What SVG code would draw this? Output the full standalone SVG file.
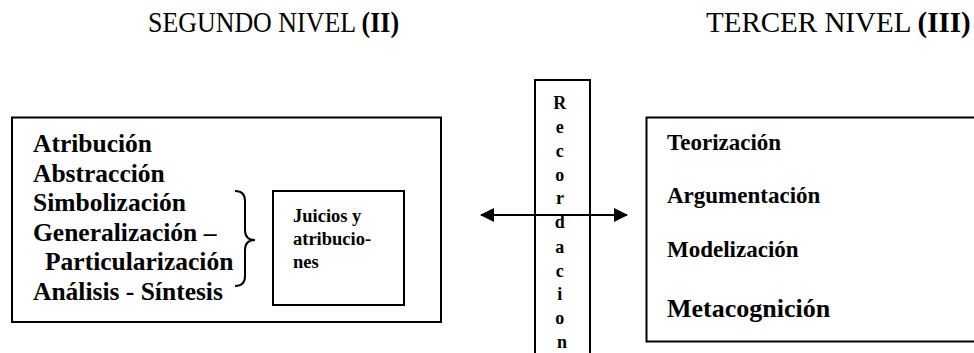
<svg xmlns="http://www.w3.org/2000/svg" width="974" height="353" viewBox="0 0 974 353">
<style>
.t{font-family:"Liberation Serif","Times New Roman",serif;fill:#000}
.b{font-weight:bold}
.box{fill:#fff;stroke:#000;stroke-width:2}
.c{fill:none;stroke:#000;stroke-width:2}
</style>
<defs>
<marker id="ah" viewBox="0 0 14 14" refX="13" refY="7" markerWidth="14" markerHeight="14" markerUnits="userSpaceOnUse" orient="auto-start-reverse">
<path d="M0,0 L14,7 L0,14 Z" fill="#000"/>
</marker>
</defs>
<rect width="974" height="353" fill="#fff"/>
<g id="titles">
<text class="t" font-size="29" transform="translate(148,32) scale(0.894,1)">SEGUNDO NIVEL <tspan class="b">(II)</tspan></text>
<text class="t" x="706" y="32" font-size="29">TERCER NIVEL <tspan class="b">(III)</tspan></text>
</g>
<g id="nivel2">
<rect class="box" x="12" y="117.5" width="429" height="204.5"/>
<text class="t b" font-size="25.5">
<tspan x="33" y="152">Atribución</tspan>
<tspan x="33" y="182">Abstracción</tspan>
<tspan x="33" y="211">Simbolización</tspan>
<tspan x="33" y="241">Generalización –</tspan>
<tspan x="45" y="270">Particularización</tspan>
<tspan x="33" y="300">Análisis - Síntesis</tspan>
</text>
<path class="c" d="M235,191 Q245,191 245,201 L245,230 Q245,240 255,240 Q245,240 245,250 L245,276 Q245,286 235,286" stroke-width="1.5"/>
</g>
<g id="juicios">
<rect class="box" x="273" y="191" width="131" height="114"/>
<text class="t b" font-size="18.5">
<tspan x="293" y="222">Juicios y</tspan>
<tspan x="293" y="245">atribucio-</tspan>
<tspan x="293" y="268">nes</tspan>
</text>
</g>
<g id="recordacion">
<rect class="box" x="535" y="80" width="55" height="300"/>
<text class="t b" font-size="18" text-anchor="middle">
<tspan x="562" y="109">R</tspan>
<tspan x="562" y="133">e</tspan>
<tspan x="562" y="157">c</tspan>
<tspan x="562" y="181">o</tspan>
<tspan x="562" y="204">r</tspan>
<tspan x="562" y="228">d</tspan>
<tspan x="562" y="253">a</tspan>
<tspan x="562" y="277">c</tspan>
<tspan x="562" y="300">i</tspan>
<tspan x="562" y="324">o</tspan>
<tspan x="562" y="348">n</tspan>
</text>
</g>
<g id="nivel3">
<rect class="box" x="646.5" y="117.5" width="340" height="224"/>
<text class="t b" font-size="23">
<tspan x="667" y="150">Teorización</tspan>
<tspan x="667" y="203">Argumentación</tspan>
<tspan x="667" y="257">Modelización</tspan>
</text>
<text class="t b" x="667" y="317" font-size="26">Metacognición</text>
</g>
<g id="connectors">
<line class="c" x1="481" y1="215" x2="627" y2="215" marker-start="url(#ah)" marker-end="url(#ah)"/>
</g>
</svg>
